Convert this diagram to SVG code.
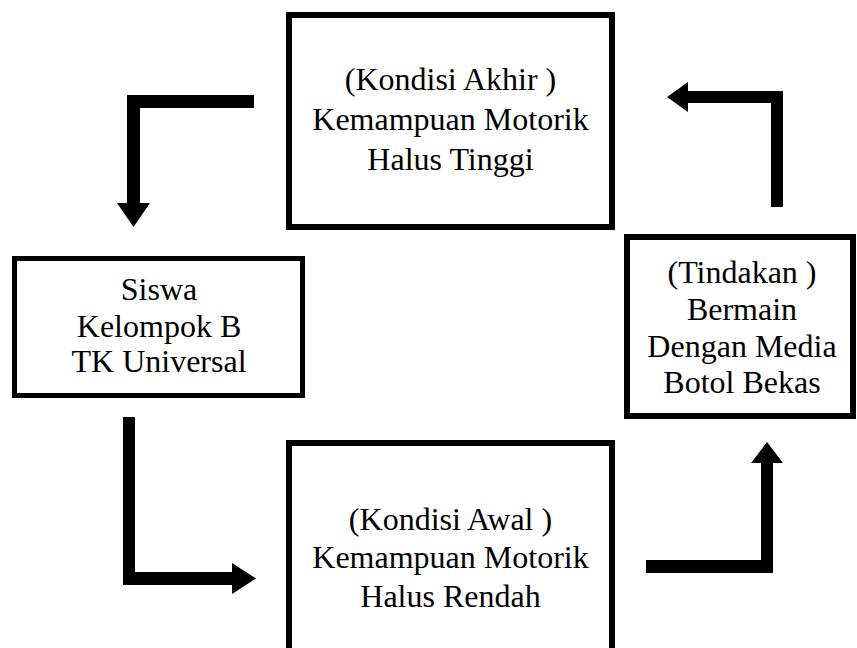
<svg xmlns="http://www.w3.org/2000/svg" width="857" height="648" viewBox="0 0 857 648">
<style>
.box{fill:#fff;stroke:#000;stroke-width:6}
.t{font-size:32px;fill:#000;text-anchor:middle}
.arr{fill:#000;stroke:none}
</style>
<rect width="857" height="648" fill="#fff"/>
<g id="node-akhir" font-family="Liberation Serif, Times New Roman, DejaVu Serif, serif">
<rect class="box" x="289" y="15" width="323" height="212"/>
<text class="t" x="450.5" y="90">(Kondisi Akhir )</text>
<text class="t" x="450.5" y="130">Kemampuan Motorik</text>
<text class="t" x="450.5" y="170">Halus Tinggi</text>
</g>
<g id="node-siswa" font-family="Liberation Serif, Times New Roman, DejaVu Serif, serif">
<rect class="box" x="14.5" y="258.5" width="288" height="137" style="stroke-width:5"/>
<text class="t" x="159" y="300">Siswa</text>
<text class="t" x="159" y="337">Kelompok B</text>
<text class="t" x="159" y="372">TK Universal</text>
</g>
<g id="node-tindakan" font-family="Liberation Serif, Times New Roman, DejaVu Serif, serif">
<rect class="box" x="627" y="237" width="226" height="179"/>
<text class="t" x="742" y="283">(Tindakan )</text>
<text class="t" x="742" y="320">Bermain</text>
<text class="t" x="742" y="357">Dengan Media</text>
<text class="t" x="742" y="393">Botol Bekas</text>
</g>
<g id="node-awal" font-family="Liberation Serif, Times New Roman, DejaVu Serif, serif">
<rect class="box" x="289" y="443" width="323" height="230"/>
<text class="t" x="450.5" y="530">(Kondisi Awal )</text>
<text class="t" x="450.5" y="568">Kemampuan Motorik</text>
<text class="t" x="450.5" y="607">Halus Rendah</text>
</g>
<g id="connectors">
<path class="arr" d="M254,95 L127,95 L127,203 L117,203 L133.5,227 L150,203 L140,203 L140,108 L254,108 Z"/>
<path class="arr" d="M771,207 L783,207 L783,91 L688,91 L688,82 L667,97 L688,112 L688,103 L771,103 Z"/>
<path class="arr" d="M123,417 L135,417 L135,572 L232,572 L232,563 L256,578.5 L232,594 L232,585 L123,585 Z"/>
<path class="arr" d="M646,560 L761,560 L761,463 L751,463 L767,442 L783,463 L773,463 L773,573 L646,573 Z"/>
</g>
</svg>
